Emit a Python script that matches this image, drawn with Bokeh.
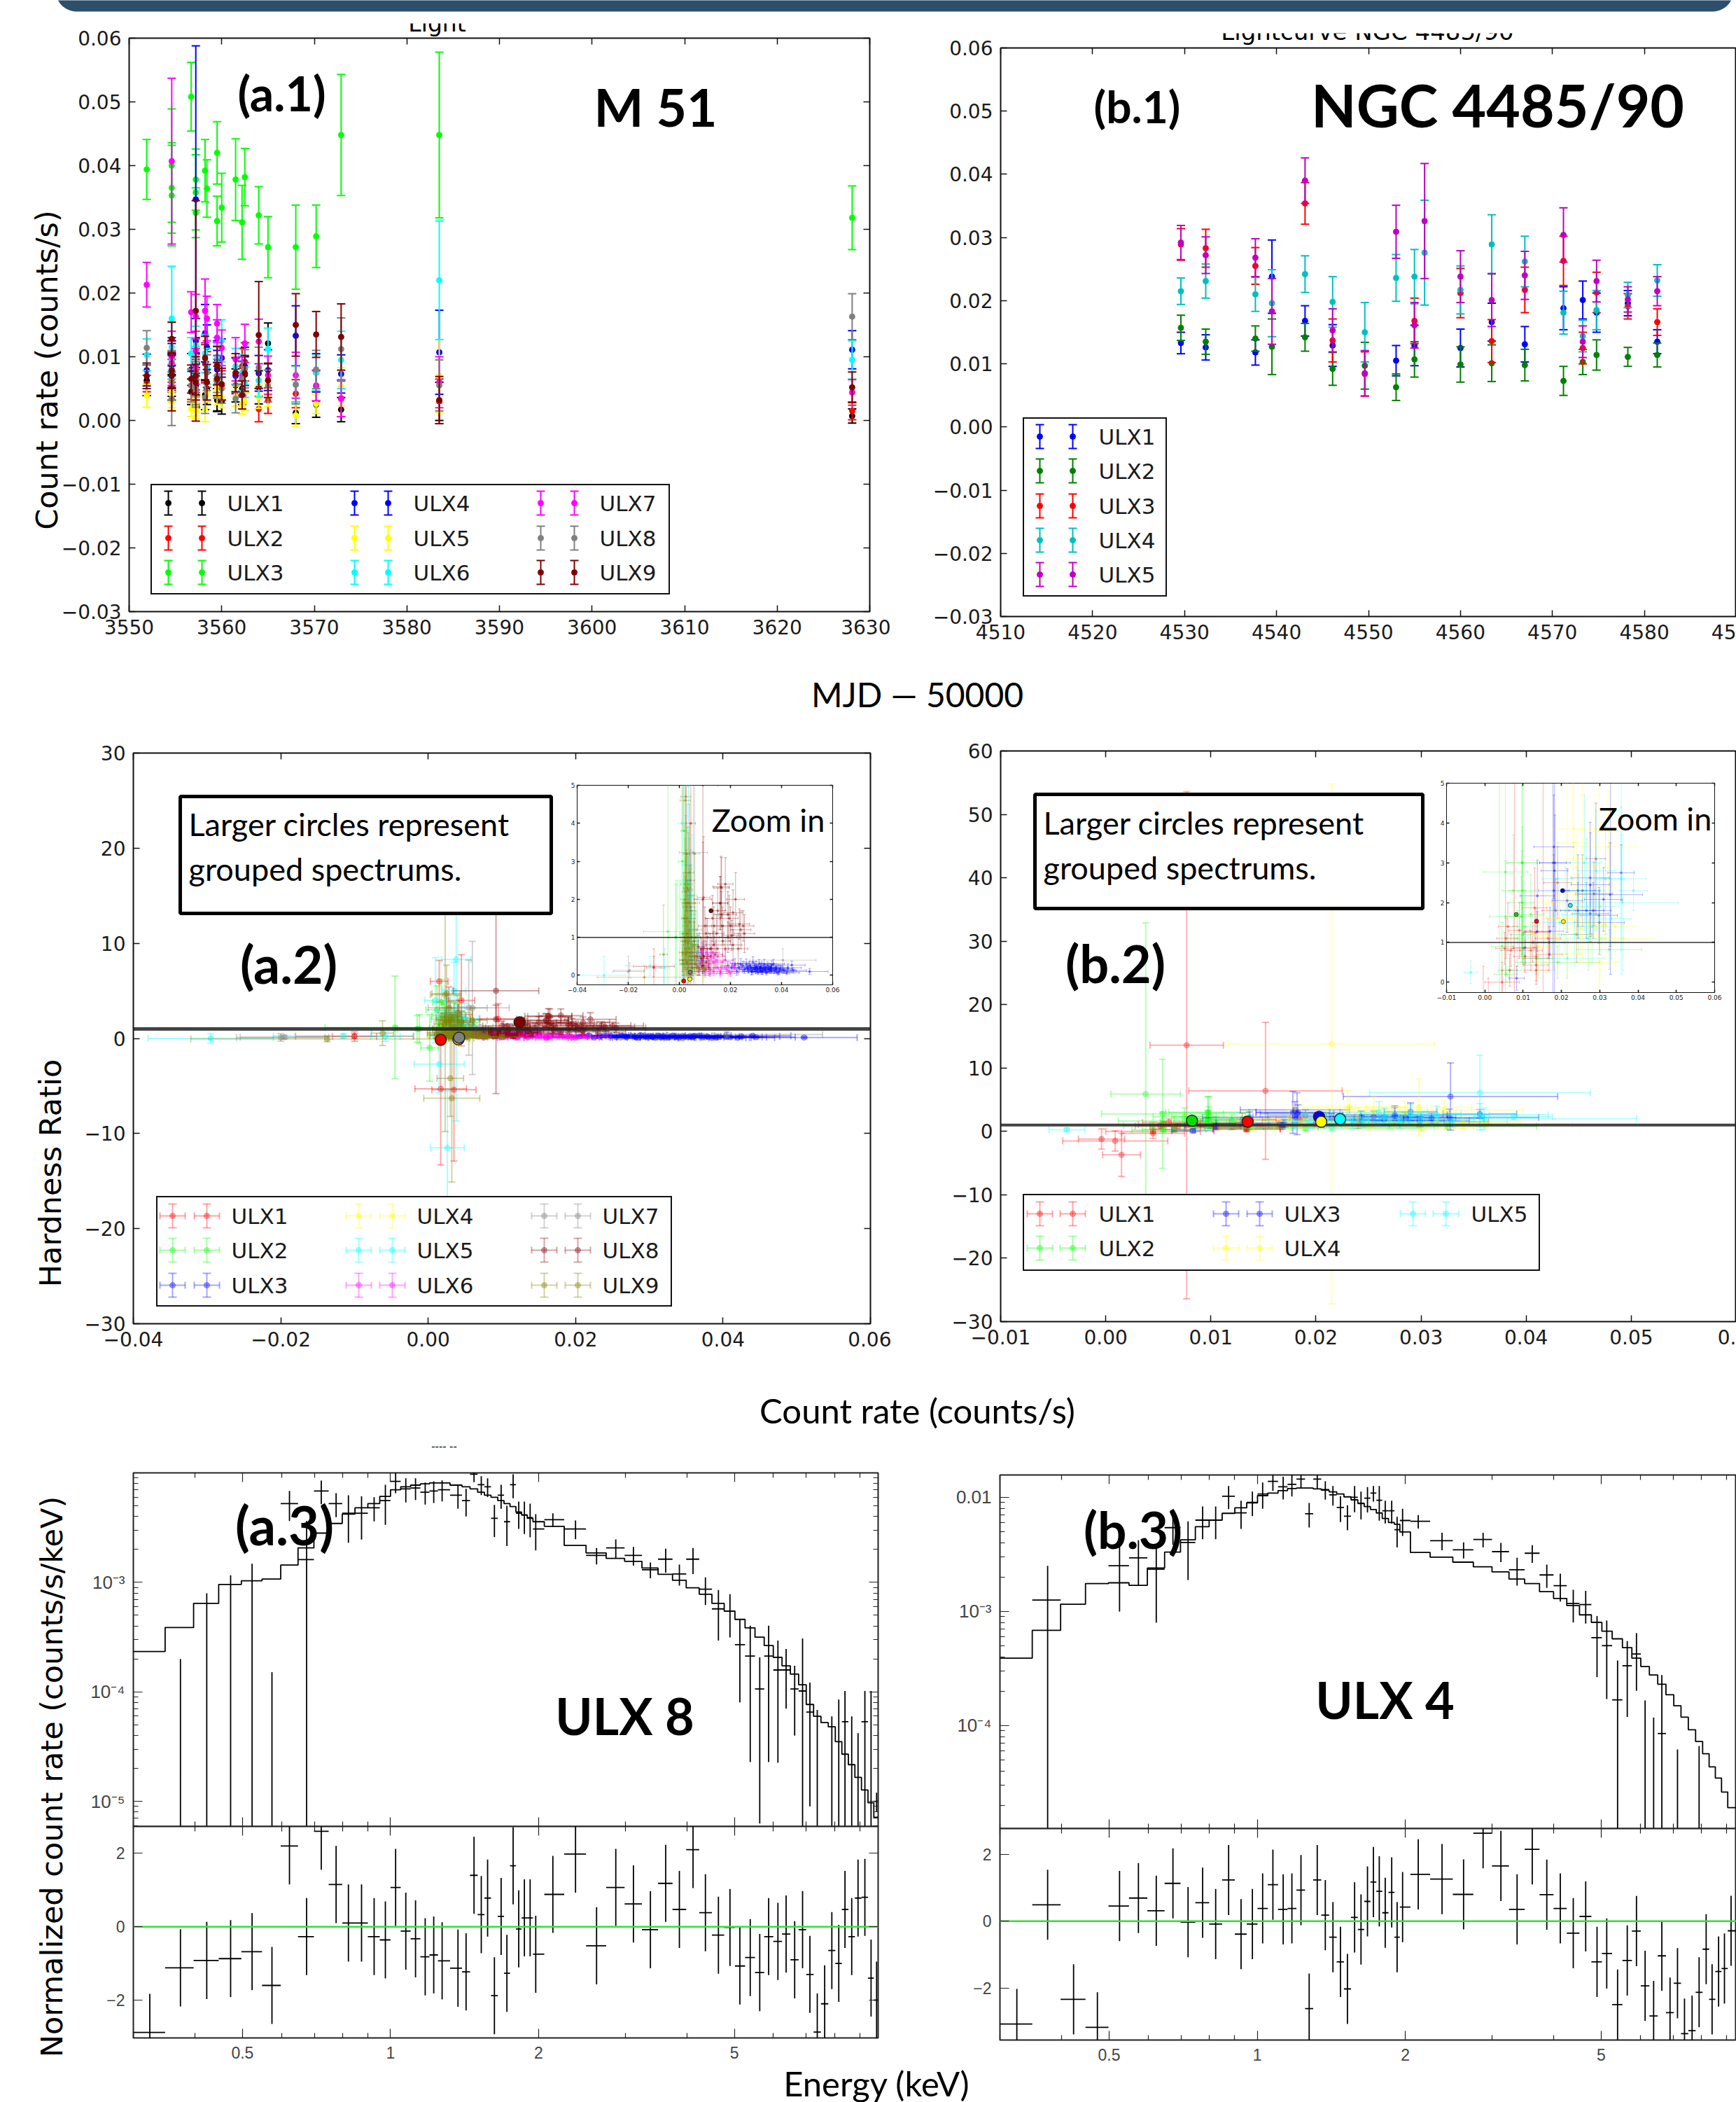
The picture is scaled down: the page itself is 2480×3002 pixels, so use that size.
import math
import numpy as np
from bokeh.plotting import figure
from bokeh.models import Range1d, FixedTicker, LinearAxis, LogAxis
from bokeh.core.properties import value
from bokeh.embed import file_html
from bokeh.resources import INLINE

# ---------- (a.1) light curves, M 51 ----------
A1_T = [3551.9,3554.6,3554.6,3554.6,3556.7,3557.2,3557.2,3557.2,3558.2,3558.4,3559.5,3559.5,3560.0,3561.5,3562.2,3562.5,3564.0,3565.0,3568.0,3570.2,3572.9,3583.5,3628.1]
A1_ULX1 = [.0063,.0075,.0052,.0062,.0045,.0042,.0048,.0055,.0040,.0050,.0032,.0035,.0030,.0055,.0050,.0072,.0052,.0121,.0012,.0025,.0017,.0030,.0007]
A1_ULX1_E = [.0024,.0030,.0020,.0024,.0020,.0022,.0026,.0028,.0023,.0025,.0018,.0020,.0020,.0026,.0025,.0028,.0026,.0032,.0017,.0020,.0019,.0030,.0011]
A1_ULX2 = [.0058,.0095,.0070,.0080,.0055,.0076,.0065,.0070,.0089,.0080,.0060,.0065,.0055,.0072,.0085,.0092,.0018,.0031,.0042,.0054,.0034,.0030,.0015]
A1_ULX2_E = [.0013,.0030,.0026,.0028,.0022,.0028,.0025,.0026,.0030,.0028,.0025,.0026,.0023,.0027,.0028,.0030,.0020,.0020,.0022,.0024,.0028,.0035,.0014]
A1_ULX3 = [.0394,.0400,.0365,.0353,.0508,.0378,.0358,.0326,.0392,.0364,.0420,.0313,.0334,.0378,.0311,.0382,.0322,.0272,.0272,.0289,.0448,.0448,.0318]
A1_ULX3_E = [.0047,.0089,.0071,.0079,.0054,.0048,.0059,.0039,.0049,.0045,.0049,.0039,.0054,.0064,.0058,.0045,.0045,.0048,.0066,.0049,.0095,.0130,.0050]
A1_ULX4 = [.0079,.0086,.0100,.0075,.0080,.0347,.0125,.0100,.0137,.0115,.0080,.0095,.0098,.0070,.0065,.0085,.0074,.0079,.0133,.0075,.0073,.0107,.0111]
A1_ULX4_E = [.0025,.0035,.0030,.0028,.0025,.0241,.0035,.0030,.0045,.0035,.0030,.0030,.0030,.0028,.0028,.0030,.0028,.0032,.0047,.0030,.0030,.0066,.0030]
A1_ULX5 = [.0039,.0035,.0045,.0030,.0018,.0025,.0020,.0015,.0018,.0045,.0050,.0040,.0035,.0038,.0026,.0030,.0037,.0040,.0008,.0026,.0053,.0070,.0045]
A1_ULX5_E = [.0018,.0015,.0017,.0015,.0012,.0013,.0013,.0012,.0020,.0016,.0015,.0015,.0015,.0016,.0016,.0014,.0018,.0018,.0018,.0015,.0030,.0057,.0020]
A1_ULX6 = [.0103,.0160,.0115,.0095,.0105,.0118,.0100,.0090,.0105,.0085,.0090,.0100,.0125,.0085,.0075,.0060,.0063,.0112,.0057,.0075,.0095,.0220,.0095]
A1_ULX6_E = [.0025,.0082,.0040,.0030,.0025,.0030,.0028,.0026,.0030,.0028,.0028,.0030,.0033,.0028,.0028,.0024,.0026,.0033,.0028,.0028,.0045,.0093,.0030]
A1_ULX7 = [.0213,.0407,.0100,.0090,.0170,.0163,.0110,.0085,.0172,.0160,.0152,.0130,.0114,.0096,.0070,.0121,.0124,.0071,.0071,.0055,.0035,.0060,.0044]
A1_ULX7_E = [.0035,.0130,.0040,.0035,.0032,.0035,.0030,.0028,.0050,.0035,.0030,.0028,.0028,.0034,.0030,.0030,.0035,.0030,.0036,.0024,.0029,.0040,.0020]
A1_ULX8 = [.0114,.0034,.0080,.0060,.0055,.0050,.0045,.0065,.0036,.0075,.0070,.0060,.0050,.0034,.0065,.0081,.0083,.0054,.0056,.0080,.0112,.0055,.0163]
A1_ULX8_E = [.0027,.0042,.0030,.0028,.0026,.0025,.0024,.0028,.0025,.0028,.0026,.0025,.0023,.0022,.0027,.0030,.0032,.0025,.0030,.0030,.0049,.0040,.0036]
A1_ULX9 = [.0070,.0128,.0070,.0078,.0065,.0172,.0070,.0060,.0098,.0060,.0086,.0065,.0057,.0075,.0040,.0074,.0134,.0063,.0150,.0135,.0131,.0032,.0052]
A1_ULX9_E = [.0020,.0026,.0055,.0028,.0022,.0173,.0030,.0028,.0034,.0028,.0030,.0026,.0025,.0030,.0022,.0028,.0084,.0027,.0049,.0036,.0052,.0037,.0024]
A1_COLORS = ["#000000","#ff0000","#00ff00","#0000ff","#ffff00","#00ffff","#ff00ff","#808080","#800000"]

# ---------- (b.1) light curves, NGC 4485/90 ----------
N = None
B1_T = [4529.6,4532.3,4537.7,4539.5,4543.1,4546.1,4549.6,4553.0,4555.0,4556.1,4560.0,4563.4,4567.0,4571.2,4573.3,4574.8,4578.2,4581.4]
B1_ULX1 = [.0133,.0126,.0118,.0238,.0168,.0129,N,.0105,.0129,N,.0125,.0166,.0131,.0188,.0201,.0181,.0196,.0135]
B1_ULX1_E = [.0017,.0020,.0020,.0058,.0024,.0033,N,.0024,.0032,N,.0030,.0030,.0028,.0034,.0030,.0031,.0020,.0019]
B1_ULX2 = [.0157,.0135,.0140,.0127,.0142,.0092,.0097,.0063,.0107,N,.0099,.0101,.0098,.0073,.0103,.0114,.0111,.0114]
B1_ULX2_E = [.0020,.0020,.0020,.0044,.0022,.0026,.0037,.0021,.0028,N,.0028,.0029,.0025,.0023,.0020,.0024,.0015,.0019]
B1_ULX3 = [.0289,.0283,.0255,N,.0354,.0137,.0084,N,.0168,N,.0212,.0136,.0217,.0263,.0125,.0213,.0191,.0166]
B1_ULX3_E = [.0025,.0030,.0029,N,.0033,.0034,.0035,N,.0036,N,.0039,.0034,.0036,.0039,.0025,.0032,.0020,.0021]
B1_ULX4 = [.0215,.0231,.0210,.0196,.0242,.0198,.0150,.0236,.0238,.0276,.0217,.0289,.0262,.0181,.0144,.0185,.0209,.0232]
B1_ULX4_E = [.0021,.0027,.0027,.0053,.0029,.0040,.0047,.0037,.0043,.0083,.0038,.0047,.0040,.0034,.0025,.0031,.0020,.0025]
B1_ULX5 = [.0292,.0272,.0268,.0183,.0390,.0153,.0085,.0309,.0161,.0326,.0238,.0201,.0240,.0304,.0135,.0231,.0202,.0215]
B1_ULX5_E = [.0027,.0029,.0030,.0052,.0036,.0034,.0036,.0042,.0036,.0091,.0041,.0042,.0038,.0043,.0025,.0033,.0020,.0023]
B1_COLORS = ["#0000ff","#008000","#ff0000","#00bfbf","#bf00bf"]

# ---------- (a.2) hardness ratio, M 51 ----------
A2_X1 = [-.0100,.0017,.0035,.0045,.0015,.0030,.0060,.0042,.0025,.0050,.0038,.0020,.0070,.0028,.0095,-.0100]
A2_Y1 = [.2,-5.3,-5.4,4.0,6.0,1.5,.8,2.5,.9,.4,1.9,.3,.6,3.2,2.05,.23]
A2_XE1 = [.0030,.0035,.0030,.0018,.0012,.0015,.0016,.0018,.0014,.0017,.0015,.0012,.0018,.0013,.0025,.0080]
A2_YE1 = [.5,8.0,7.5,4.8,2.2,1.2,.6,1.5,.8,.4,1.0,.5,.5,2.2,1.6,.27]
A2_X2 = [-.0045,-.0012,.0002,.0012,.0022,.0030,.0042,.0055,.0036,.0026,.0048,.0065,.0018,.0032,.0020,.0040,.0030,.0050,.0025,.0035,.0060,.0015,.0045,.0070,-.0015]
A2_Y2 = [1.15,1.0,-1.0,3.0,2.0,1.5,1.2,.8,2.4,.7,.4,1.0,3.8,.3,2.4,2.1,1.3,.8,.3,.6,.5,1.1,1.6,.2,1.0]
A2_XE2 = [.0095,.0030,.0012,.0015,.0018,.0016,.0020,.0018,.0015,.0013,.0016,.0020,.0012,.0014,.0015,.0017,.0016,.0018,.0013,.0015,.0020,.0013,.0017,.0022,.0030]
A2_YE2 = [5.4,1.5,3.5,2.5,1.6,1.0,.9,.5,1.5,.7,.3,.7,2.4,.3,1.6,1.5,1.0,.7,.3,.5,.4,.9,1.2,.2,1.4]
A2_X3 = [.0190,.0205,.0218,.0225,.0232,.0240,.0248,.0255,.0262,.0268,.0275,.0282,.0288,.0295,.0300,.0305,.0312,.0318,.0325,.0332,.0338,.0345,.0352,.0360,.0368,.0378,.0390,.0405,.0425,.0510,.0270,.0280,.0285,.0292,.0298,.0303,.0308,.0315,.0320,.0322,.0328,.0335,.0340,.0348,.0355,.0358,.0362,.0372,.0380,.0385,.0395,.0410,.0420,.0440,.0445]
A2_Y3 = [.25,.2,.3,.1,.2,.3,.25,.15,.3,.2,.25,.1,.35,.2,.25,.15,.3,.2,.1,.3,.2,.25,.15,.2,.3,.2,.1,.15,.2,.1,.15,.2,.1,.17,.12,.2,.08,.15,.22,.1,.17,.14,.07,.18,.22,.12,.27,.12,.16,.06,.17,.12,.07,.27,.13]
A2_XE3 = [.0028,.0030,.0030,.0031,.0031,.0032,.0032,.0033,.0033,.0034,.0034,.0035,.0035,.0036,.0036,.0037,.0037,.0038,.0038,.0039,.0040,.0040,.0041,.0042,.0043,.0044,.0046,.0048,.0052,.0072,.0034,.0035,.0035,.0036,.0037,.0037,.0038,.0038,.0039,.0039,.0040,.0040,.0041,.0042,.0042,.0043,.0043,.0045,.0046,.0046,.0047,.0049,.0050,.0052,.0053]
A2_YE3 = [.12,.12,.14,.1,.12,.14,.12,.1,.13,.11,.12,.09,.14,.1,.12,.09,.12,.1,.08,.12,.1,.1,.08,.1,.12,.1,.08,.08,.1,.08,.09,.1,.07,.09,.08,.1,.06,.08,.1,.07,.09,.08,.06,.09,.1,.07,.11,.07,.08,.05,.08,.07,.05,.1,.07]
A2_X4 = [.0012,.0025,.0041,.0055,.0035,.0048,.0070,.0090,.0110,.0135,.0160,.0190,.0062,.0030]
A2_Y4 = [.3,.6,-.3,.2,1.0,.5,.3,.2,.25,.15,.3,.1,.7,1.6]
A2_XE4 = [.0012,.0014,.0016,.0018,.0015,.0016,.0020,.0022,.0024,.0025,.0027,.0030,.0018,.0013]
A2_YE4 = [.4,.7,.5,.3,.9,.5,.3,.25,.2,.2,.25,.2,.6,1.5]
A2_X5 = [-.0295,-.0058,.0038,.0015,.0026,.0010,.0030,.0045,.0060,.0075,.0020,.0052,.0035,.0090,.0045,.0055,.0035,.0065,.0025,.0050,.0075,-.0115]
A2_Y5 = [0,.2,8.3,-2.7,-11.5,4.0,2.5,1.5,1.0,.6,.3,.2,5.0,.4,1.2,.9,1.7,.6,2.9,2.1,.4,.25]
A2_XE5 = [.0085,.0020,.0020,.0034,.0023,.0015,.0016,.0018,.0020,.0022,.0014,.0017,.0016,.0024,.0018,.0019,.0016,.0020,.0015,.0019,.0022,.0095]
A2_YE5 = [.5,.5,17,3,6,4.5,2,1.4,.8,.5,.4,.3,3,.4,1,.8,1.4,.5,2.2,1.6,.3,.25]
A2_X6 = [.0045,.0060,.0075,.0090,.0105,.0120,.0135,.0150,.0165,.0180,.0195,.0210,.0100,.0130,.0085,.0160,.0105,.0115,.0125,.0095,.0085,.0075,.0065,.0135,.0150,.0170,.0185,.0200,.0215,.0110,.0120,.0090,.0145,.0160]
A2_Y6 = [.3,.5,.2,.4,.6,.15,.35,.5,.2,.4,.1,.25,.1,.6,.65,.05,.15,.3,.5,.25,.35,.1,.3,.1,.2,.35,.15,.05,.2,.45,.05,.55,.4,.1]
A2_XE6 = [.0018,.002,.0022,.0024,.0025,.0026,.0027,.0028,.003,.003,.0032,.0033,.0025,.0027,.0023,.003,.0025,.0026,.0027,.0024,.0023,.0022,.0021,.0027,.0028,.003,.0031,.0032,.0033,.0026,.0026,.0024,.0028,.003]
A2_YE6 = [.3,.3,.2,.3,.3,.15,.25,.3,.15,.25,.1,.15,.1,.3,.35,.1,.15,.2,.25,.2,.25,.1,.2,.1,.15,.2,.1,.08,.15,.25,.08,.3,.2,.1]
A2_X7 = [-.0200,.0060,.0042,.0035,.0025,.0050,.0070,.0015,.0080,.0100,.0045,.0030,.0055,-.0195,.0405]
A2_Y7 = [.1,3.2,.0,1.0,2.2,.5,1.2,.4,.3,.2,1.8,.6,3.23,.13,.4]
A2_XE7 = [.006,.002,.0014,.0015,.0014,.0016,.0018,.0012,.002,.0022,.0016,.0013,.0055,.0060,.0130]
A2_YE7 = [.4,7,.3,1,2,.4,.8,.5,.3,.2,1.5,.5,5,.2,.3]
A2_X8 = [.0092,.0092,.0165,.0180,.0220,.0150,.0200,.0240,.0130,.0110,.0170,.0190,.0210,.0255,.0120,.0145,.0095,.0230,.0160,.0100,.0163,.0160,.0210,.0195,.0165,.0250,.0235,.0205,.0190,.0170,.0135,.0105,.0085,.0075,.0125,.0140,.0095,.0085,.0105,.0135,.0180,.0115,.0090]
A2_Y8 = [5,2,2.3,2.4,2.0,1.7,1.3,1.2,1.5,1.0,.9,1.6,.8,1.1,.7,1.1,.5,.7,1.9,1.3,2.33,1.9,1.65,1.5,1.6,1.3,1.35,1.05,1.0,1.3,1.3,1.1,.7,.75,.7,.55,.5,.45,.35,.8,.7,.2,.25]
A2_XE8 = [.0058,.0035,.003,.003,.0035,.003,.0035,.004,.0028,.0028,.003,.0035,.0035,.004,.0028,.003,.0025,.0038,.003,.0026,.0032,.003,.0036,.0034,.003,.0042,.004,.0036,.0034,.0032,.0028,.0027,.0025,.0024,.0028,.0029,.0026,.0025,.0027,.0029,.0032,.0027,.0025]
A2_YE8 = [10.8,1.5,.8,.7,.7,.6,.5,.5,.6,.5,.4,.6,.4,.5,.4,.5,.4,.4,.7,.5,.8,.7,.6,.6,.6,.4,.4,.4,.4,.5,.5,.4,.3,.3,.3,.3,.25,.25,.2,.35,.3,.2,.2]
A2_X9 = [-.0137,-.0062,.0023,.0032,.0030,.0020,.0040,.0050,.0060,.0028,.0035,.0012,.0075,.0045,.0100,.0025,.0030,.0040,.0035,.0025,.0045,.0040,.0060,.0030,.0020,.0035,.0050,.0025,.0040,.0015,.0030,.0050,.0060,.0070,.0080,.0022,.0032,.0048,.0012,.0058,.0068,.0038,.0028,.0045]
A2_Y9 = [-.05,.55,4.6,-6.3,-4.2,1.0,.6,.3,.5,1.8,.2,.4,.2,1.0,.15,4.7,2.3,2.7,2.25,1.9,1.7,1.4,1.9,1.1,.9,.85,.6,.55,.4,.3,.15,.2,.3,.5,.15,1.5,1.9,1.0,.6,.9,.2,.7,.35,.05]
A2_XE9 = [.0185,.0015,.002,.0038,.0018,.0014,.0016,.0018,.002,.0014,.0015,.0013,.0022,.0016,.0024,.0020,.0015,.0017,.0016,.0014,.0017,.0016,.0020,.0015,.0014,.0016,.0018,.0014,.0016,.0013,.0015,.0018,.0020,.0022,.0023,.0014,.0015,.0017,.0013,.0019,.0021,.0016,.0014,.0017]
A2_YE9 = [.3,1.3,14.4,8.8,4,1,.6,.4,.4,1.5,.3,.4,.2,.8,.2,3,1.6,1.8,1.5,1.3,1.2,1,1.3,.8,.7,.6,.5,.4,.35,.3,.2,.2,.25,.3,.15,1.1,1.3,.7,.5,.6,.2,.5,.3,.1]
A2_COLORS = ["#ff0000","#00ff00","#0000ff","#ffff00","#00ffff","#ff00ff","#808080","#800000","#808000"]
A2_GROUP_X = [.0041,.0017,.0042,.0124]
A2_GROUP_Y = [-.1,-.15,.08,1.7]
A2_GROUP_C = ["#ffff00","#ff0000","#808080","#800000"]

# ---------- (b.2) hardness ratio, NGC 4485/90 ----------
B2_X1 = [-.0004,.0009,.0015,.0045,.0077,.0152,.0065,.0134,.0134,.0134,.0133,.0130,.0125,.0105,.0120,.0090,.0060,.0055,.0052,.0068,.0185,.0190,.0168,.0165,.0240,.0100,.0045]
B2_Y1 = [-1.2,-1.5,-3.7,-.3,13.6,6.4,.3,.3,.43,.6,1.25,1.87,1.0,.65,.8,1.3,1.4,1.1,.85,.8,1.8,2.5,.7,1.1,1.2,.85,0]
B2_XE1 = [.0022,.0050,.0018,.0030,.0035,.0073,.0020,.0032,.0032,.0032,.0032,.0032,.0030,.0030,.0030,.0028,.0025,.0024,.0024,.0026,.0036,.0036,.0034,.0033,.0040,.0029,.0045]
B2_YE1 = [1.6,1.6,3.4,.8,40,10.8,.4,.35,.4,.4,.6,1.0,.5,.4,.5,.7,.6,.5,.4,.4,.8,.9,.4,.5,.7,.4,.3]
B2_X2 = [.0038,.0054,.0097,.0098,.0098,.0097,.0095,.0054,.0137,.0085,.0105,.0325,.0190,.0055,.0065,.0100,.0120,.0045,.0075]
B2_Y2 = [5.9,2.77,3.0,3.0,2.3,2.0,1.65,1.65,.6,1.1,1.4,.82,.5,.2,.3,1.2,1.7,.9,2.3]
B2_XE2 = [.0033,.0058,.0040,.0038,.0035,.0032,.0030,.0042,.0040,.0030,.0032,.0085,.0110,.0030,.0030,.0030,.0035,.0028,.0030]
B2_YE2 = [27,8.6,2.5,2.5,1.6,1.3,1.0,1.4,.3,.7,.9,.5,.4,.2,.3,.8,1.0,.6,1.4]
B2_X3 = [.0328,.0178,.0182,.0180,.0183,.0290,.0356,.0327,.0275,.0275,.0243,.0255,.0285,.0310,.0215,.0180,.0137,.0243,.0265,.0275,.0283,.0298,.0299,.0170,.0137,.0168,.0105,.0083]
B2_Y3 = [5.5,3.0,2.8,3.4,3.0,3.1,2.75,2.2,2.45,2.62,2.3,2.3,2.22,2.08,2.05,2.3,2.17,1.8,1.8,1.72,1.8,1.68,1.5,1.28,1.27,1.0,.87,.1]
B2_XE3 = [.0102,.0035,.0035,.0052,.0040,.0025,.0035,.0085,.0050,.0050,.0045,.0045,.0048,.0050,.0040,.0040,.0045,.0045,.0046,.0047,.0047,.0048,.0065,.0035,.0032,.0040,.0030,.0020]
B2_YE3 = [5.3,3.3,3.3,1.3,1.2,1.4,.7,1.3,1.3,1.4,.9,.9,.8,.8,.8,.9,.9,.7,.7,.7,.7,.7,.8,.6,.5,.4,.4,.3]
B2_X4 = [.0215,.0298,.0232,.0322,.0362,.0315,.0205,.0250,.0275,.0185,.0230,.0255,.0160,.0190,.0240,.0270,.0285,.0305,.0140,.0175,.0215,.0340,.0300]
B2_Y4 = [13.8,3.8,3.85,3.4,1.1,1.45,1.6,1.35,1.2,1.1,3.5,3.1,1.2,1.6,2.2,1.5,2.9,1.1,.9,2.0,.7,1.4,.5]
B2_XE4 = [.0098,.0050,.0055,.0075,.0082,.0050,.0040,.0045,.0045,.0035,.0050,.0045,.0035,.0038,.0042,.0045,.0048,.0050,.0033,.0036,.0040,.0055,.0050]
B2_YE4 = [41,4.5,1.5,1.4,.5,.8,1,.8,.7,.6,3,2.5,1,1.2,1.5,1.1,1.8,.8,.8,1.4,.5,1,.5]
B2_X5 = [.0356,-.0037,.0388,.0360,.0356,.0190,.0215,.0245,.0265,.0280,.0300,.0315,.0235,.0195,.0210,.0270,.0290,.0330,.0180,.0260]
B2_Y5 = [6.1,.25,2.3,2.0,2.6,2.6,.6,1.7,2.3,1.4,1.9,2.6,1.2,1.5,1.8,1.1,2.8,1.6,1.0,3.0]
B2_XE5 = [.0105,.0017,.0037,.0145,.0065,.0040,.0098,.0044,.0046,.0047,.0050,.0050,.0044,.0040,.0040,.0046,.0048,.0052,.0038,.0046]
B2_YE5 = [5.9,.28,.5,1.7,1.8,.9,.5,1,1.3,.9,1.1,1.4,.8,1,1.1,.8,1.5,1,.7,1.7]
B2_COLORS = ["#ff0000","#00ff00","#0000ff","#ffff00","#00ffff"]
B2_GROUP_X = [.0082,.0135,.0203,.0205,.0223]
B2_GROUP_Y = [1.7,1.53,2.3,1.52,1.93]
B2_GROUP_C = ["#00e000","#ff0000","#0000ff","#ffff00","#00ffff"]

# ---------- (a.3) spectrum ULX 8 ----------
A3_E = [.324,.374,.423,.473,.523,.574,.623,.675,.723,.775,.821,.873,.926,.976,1.024,1.074,1.124,1.176,1.224,1.273,1.371,1.424,1.478,1.529,1.575,1.626,1.678,1.724,1.775,1.822,1.871,1.922,1.973,2.138,2.377,2.623,2.87,3.117,3.375,3.625,3.865,4.12,4.366,4.64,4.898,5.13,5.385,5.63,5.87,6.13,6.37,6.63,6.88,7.12,7.37,7.63,7.89,8.15,8.39,8.66,8.92,9.21,9.48,9.73]
A3_MODEL_LOG = [-3.631,-3.412,-3.192,-3.019,-2.985,-2.969,-2.842,-2.685,-2.55,-2.462,-2.377,-2.319,-2.281,-2.215,-2.154,-2.127,-2.112,-2.1,-2.092,-2.092,-2.112,-2.127,-2.146,-2.177,-2.204,-2.223,-2.254,-2.281,-2.308,-2.358,-2.385,-2.415,-2.446,-2.488,-2.662,-2.731,-2.781,-2.808,-2.869,-2.927,-2.981,-3.05,-3.108,-3.192,-3.262,-3.338,-3.415,-3.5,-3.577,-3.685,-3.762,-3.838,-3.935,-4.115,-4.223,-4.281,-4.319,-4.454,-4.569,-4.665,-4.781,-4.896,-5.012,-5.146]
A3_DATA_LOG = [N,N,N,N,N,N,-2.281,-2.792,-2.165,-2.281,-2.369,-2.369,-2.319,-2.254,-2.077,-2.146,-2.138,-2.177,-2.165,-2.154,-2.204,-2.254,-2.012,-2.108,-2.127,-2.415,-2.204,-2.446,-2.108,-2.369,-2.385,-2.408,-2.512,-2.427,-2.512,-2.754,-2.685,-2.754,-2.885,-2.788,-2.923,-2.788,-3.062,-3.242,-3.262,-3.569,-3.673,-3.973,-3.673,-3.8,-3.8,-3.973,-3.992,-4.185,N,N,N,N,-4.273,N,N,-4.273,N,-5.0]
A3_TOP_LOG = [N,-3.70,-3.10,-2.935,-2.83,-3.82,-2.165,-2.44,-2.07,-2.185,-2.204,-2.215,-2.223,-2.108,-1.99,-2.05,-2.05,-2.088,-2.077,-2.069,-2.108,-2.146,-1.95,-2.03,-2.05,-2.292,-2.108,-2.3,-2.012,-2.262,-2.262,-2.281,-2.377,-2.369,-2.435,-2.685,-2.608,-2.677,-2.819,-2.692,-2.838,-2.685,-2.954,-3.07,-3.108,-3.338,-3.396,-3.685,-3.396,-3.531,-3.608,-3.762,-3.512,-3.915,-4.165,N,-4.223,-4.07,-3.992,-4.223,-4.377,-3.992,-3.992,-4.92]
A3_RESID = [-2.88,-1.12,-.92,-.87,-.68,-1.6,2.2,-.27,2.6,1.15,.1,.1,-.27,-.36,1.07,-.12,-.33,-.82,-.77,-.93,-1.13,-1.23,1.4,.33,.78,-1.88,.28,-1.27,1.66,-.06,.24,.24,-.75,.88,1.98,-.52,1.07,.62,-.08,1.18,.47,2.1,.38,-.23,-.02,-1.07,-.84,-1.25,-.27,-.4,-.2,-.9,-.08,-1.3,-2.87,-2.1,-.65,-1.0,.47,-.27,.78,.8,-1.4,-2.0]

# ---------- (b.3) spectrum ULX 4 ----------
B3_E = [.3247,.375,.4234,.4733,.525,.5735,.6234,.674,.7234,.7745,.8232,.8746,.927,.9775,1.0256,1.076,1.129,1.176,1.227,1.275,1.324,1.375,1.425,1.476,1.525,1.577,1.625,1.675,1.722,1.77,1.82,1.876,1.924,1.974,2.124,2.374,2.626,2.877,3.127,3.373,3.621,3.876,4.129,4.387,4.65,4.903,5.131,5.398,5.648,5.897,6.14,6.39,6.64,6.9,7.145,7.383,7.65,7.905,8.17,8.4,8.66,8.9,9.18]
B3_MODEL_LOG = [-3.41,-3.166,-2.937,-2.756,-2.749,-2.771,-2.62,-2.48,-2.373,-2.258,-2.2,-2.14,-2.092,-2.048,-1.985,-1.963,-1.941,-1.923,-1.919,-1.919,-1.926,-1.937,-1.952,-1.97,-1.996,-2.022,-2.052,-2.081,-2.107,-2.137,-2.185,-2.221,-2.236,-2.303,-2.483,-2.524,-2.568,-2.609,-2.653,-2.716,-2.756,-2.827,-2.886,-2.948,-3.03,-3.096,-3.173,-3.24,-3.317,-3.41,-3.483,-3.557,-3.638,-3.73,-3.827,-3.926,-4.037,-4.14,-4.247,-4.362,-4.461,-4.583,-4.72]
B3_DATA_LOG = [N,-2.9,N,N,-2.6,-2.53,-2.63,-2.266,-2.395,-2.2,-2.2,-1.99,-2.136,-2.044,-1.97,-1.86,-1.908,-1.886,-1.84,-2.144,-1.84,-1.933,-1.978,-2.089,-2.166,-2.0,-2.055,-2.007,-1.963,-2.026,-2.118,-2.118,-2.284,-2.203,-2.21,-2.38,-2.46,-2.37,-2.476,-2.635,-2.49,-2.68,-2.775,-2.93,-2.94,-3.23,-3.3,-3.775,-3.476,-3.373,N,N,-4.07,N,N,N,N,N,N,N,N,N,N]
B3_TOP_LOG = [N,-2.6,N,N,-2.395,-2.376,-2.41,-2.155,-2.21,-2.08,-2.08,-1.9,-2.03,-1.95,-1.87,-1.79,-1.82,-1.8,-1.77,-2.05,-1.77,-1.86,-1.9,-1.99,-2.07,-1.9,-1.95,-1.91,-1.9,-1.9,-2.03,-2.03,-2.17,-2.1,-2.155,-2.31,-2.395,-2.31,-2.4,-2.53,-2.42,-2.59,-2.67,-2.81,-2.82,-3.04,-3.08,-3.43,-3.26,-3.19,-3.78,-3.93,-3.557,N,-4.21,N,N,-4.18,N,N,N,N,N]
B3_RESID = [-3.08,.49,-2.34,-3.18,.45,.69,.31,1.13,-.03,.55,-.09,1.23,-.39,-.09,.38,1.09,.35,.38,.93,-2.62,1.23,.18,-.48,-1.22,-2.03,.11,-.25,.59,1.17,.89,.25,.86,-.48,.42,1.4,1.26,.8,2.63,1.65,.35,2.15,.79,.38,-.36,.14,-1.22,-.97,-2.5,-1.18,-.3,-1.94,-2.84,-1.04,-2.74,-1.86,-3.37,-3.28,-2.13,-.84,-2.34,-1.51,-1.42,-.29]

LABELS_9 = ["ULX%d" % i for i in range(1, 10)]
LABELS_5 = ["ULX%d" % i for i in range(1, 6)]

TICK_FONT = "DejaVu Sans"
LABEL_FONT = "Lato"
figs = []


def place(fig, left, top):
    fig.styles = {"position": "absolute", "left": f"{left}px", "top": f"{top}px"}
    figs.append(fig)


def lab(v, digits):
    s = f"{abs(v):.{digits}f}"
    return ("\u2212" + s) if v < 0 else s


def panel(box, xr, yr, xt, yt, xd, yd, font=28, tick=9, L=130, R=30, T=20, B=60, line=2, right_axis=True, cut=None):
    l, t, r, b = box
    p = figure(x_range=Range1d(*xr), y_range=Range1d(*yr), frame_width=r - l, frame_height=b - t,
               min_border_left=L, min_border_right=R, min_border_top=T, min_border_bottom=B,
               toolbar_location=None, output_backend="svg", tools="",
               border_fill_alpha=0, background_fill_color="white")
    p.grid.visible = False
    p.outline_line_color = "#111111"
    p.outline_line_width = line
    for ax, ticks, d in ((p.xaxis[0], xt, xd), (p.yaxis[0], yt, yd)):
        ax.ticker = FixedTicker(ticks=ticks)
        ax.major_label_overrides = {float(v): lab(v, d) for v in ticks}
        ax.major_label_text_font = TICK_FONT
        ax.major_label_text_font_size = f"{font}px"
        ax.major_label_text_color = "#1a1a1a"
        ax.major_label_standoff = int(font * 0.4)
        ax.axis_line_color = None
        ax.major_tick_in, ax.major_tick_out = tick, 0
        ax.minor_tick_in, ax.minor_tick_out = 0, 0
        ax.major_tick_line_color = "#111111"
        ax.major_tick_line_width = 1.5
    if cut:  # the last tick label is cut by the page edge in the reference
        ov = dict(p.xaxis[0].major_label_overrides)
        ov[float(xt[-1])] = cut
        p.xaxis[0].major_label_overrides = ov
    sides = [("above", xt)] + ([("right", yt)] if right_axis else [])
    for side, ticks in sides:
        ax = LinearAxis(ticker=FixedTicker(ticks=ticks), axis_line_color=None,
                        major_label_overrides={float(v): "" for v in ticks},
                        major_tick_in=tick, major_tick_out=0, minor_tick_in=0, minor_tick_out=0,
                        major_tick_line_color="#111111", major_tick_line_width=1.5)
        p.add_layout(ax, side)
    place(p, l - L, t - T)
    return p


def clean(*cols):
    keep = [i for i in range(len(cols[0])) if all(c[i] is not None for c in cols)]
    return [np.array([c[i] for i in keep], dtype=float) for c in cols]


def errs_y(p, x, y, e, color, size=8, cap=12, width=2):
    x, y, e = clean(x, y, e)
    p.segment(x, y - e, x, y + e, line_color=color, line_width=width)
    p.scatter(np.r_[x, x], np.r_[y - e, y + e], marker="dash", size=cap, line_color=color, line_width=width)
    p.scatter(x, y, marker="circle", size=size, fill_color=color, line_color=color)


def errs_xy(p, x, y, xe, ye, color, alpha=.3, size=8, cap=10, width=2):
    x, y, xe, ye = map(lambda a: np.array(a, dtype=float), (x, y, xe, ye))
    p.segment(x, y - ye, x, y + ye, line_color=color, line_width=width, line_alpha=alpha)
    p.segment(x - xe, y, x + xe, y, line_color=color, line_width=width, line_alpha=alpha)
    p.scatter(np.r_[x, x], np.r_[y - ye, y + ye], marker="dash", size=cap, line_color=color, line_width=width, line_alpha=alpha)
    p.scatter(np.r_[x - xe, x + xe], np.r_[y, y], marker="dash", angle=math.pi / 2, size=cap, line_color=color, line_width=width, line_alpha=alpha)
    p.scatter(x, y, marker="circle", size=size, fill_color=color, line_color=color, fill_alpha=alpha, line_alpha=alpha)


def legend(box, rows, cols, labels, colors, xbars=False, alpha=1.0, font=31):
    l, t, r, b = box
    p = figure(width=r - l, height=b - t, x_range=Range1d(l, r), y_range=Range1d(b, t),
               x_axis_location=None, y_axis_location=None, toolbar_location=None, tools="",
               output_backend="svg", min_border=0, background_fill_color="white", border_fill_alpha=0)
    p.grid.visible = False
    p.outline_line_color = "#111111"
    p.outline_line_width = 3
    for i, (name, c) in enumerate(zip(labels, colors)):
        col = cols[i // len(rows)]
        y = rows[i % len(rows)]
        for x in col[:2]:
            p.segment([x], [y - 17], [x], [y + 17], line_color=c, line_width=2, line_alpha=alpha)
            p.scatter([x, x], [y - 17, y + 17], marker="dash", size=12, line_color=c, line_width=2, line_alpha=alpha)
            if xbars:
                p.segment([x - 18], [y], [x + 18], [y], line_color=c, line_width=2, line_alpha=alpha)
                p.scatter([x - 18, x + 18], [y, y], marker="dash", angle=math.pi / 2, size=10, line_color=c, line_width=2, line_alpha=alpha)
            p.scatter([x], [y], marker="circle", size=8, fill_color=c, line_color=c, fill_alpha=alpha, line_alpha=alpha)
        p.text([col[2]], [y], text=[name], text_font=value(TICK_FONT), text_font_size=f"{font}px",
               text_baseline="middle", text_color="#1a1a1a")
    place(p, l, t)


# ---- row 1 ----
a1 = panel((184, 54, 1242, 873), (3550, 3630), (-.03, .06), list(range(3550, 3631, 10)),
           [-.03, -.02, -.01, 0, .01, .02, .03, .04, .05, .06], 0, 2)
for yy, ee, c in zip([A1_ULX1, A1_ULX2, A1_ULX3, A1_ULX4, A1_ULX5, A1_ULX6, A1_ULX7, A1_ULX8, A1_ULX9],
                     [A1_ULX1_E, A1_ULX2_E, A1_ULX3_E, A1_ULX4_E, A1_ULX5_E, A1_ULX6_E, A1_ULX7_E, A1_ULX8_E, A1_ULX9_E],
                     A1_COLORS):
    errs_y(a1, A1_T, yy, ee, c)

b1 = panel((1429, 68, 2480, 880), (4510, 4590), (-.03, .06), list(range(4510, 4591, 10)),
           [-.03, -.02, -.01, 0, .01, .02, .03, .04, .05, .06], 0, 2, R=0, right_axis=False, cut="45")
for yy, ee, c in zip([B1_ULX1, B1_ULX2, B1_ULX3, B1_ULX4, B1_ULX5],
                     [B1_ULX1_E, B1_ULX2_E, B1_ULX3_E, B1_ULX4_E, B1_ULX5_E], B1_COLORS):
    errs_y(b1, B1_T, yy, ee, c)

legend((215, 691, 957, 849), [718, 768, 817], [(240, 288, 324), (506, 554, 590), (772, 820, 856)], LABELS_9, A1_COLORS)
legend((1461, 596, 1667, 852), [623, 672, 722, 771, 820], [(1485, 1532, 1569)], LABELS_5, B1_COLORS)

# ---- row 2 ----
A2_SERIES = [(A2_X1, A2_Y1, A2_XE1, A2_YE1), (A2_X2, A2_Y2, A2_XE2, A2_YE2), (A2_X3, A2_Y3, A2_XE3, A2_YE3),
             (A2_X4, A2_Y4, A2_XE4, A2_YE4), (A2_X5, A2_Y5, A2_XE5, A2_YE5), (A2_X6, A2_Y6, A2_XE6, A2_YE6),
             (A2_X7, A2_Y7, A2_XE7, A2_YE7), (A2_X8, A2_Y8, A2_XE8, A2_YE8), (A2_X9, A2_Y9, A2_XE9, A2_YE9)]
B2_SERIES = [(B2_X1, B2_Y1, B2_XE1, B2_YE1), (B2_X2, B2_Y2, B2_XE2, B2_YE2), (B2_X3, B2_Y3, B2_XE3, B2_YE3),
             (B2_X4, B2_Y4, B2_XE4, B2_YE4), (B2_X5, B2_Y5, B2_XE5, B2_YE5)]

a2 = panel((190, 1075, 1243, 1890), (-.04, .06), (-30, 30), [-.04, -.02, 0, .02, .04, .06],
           [-30, -20, -10, 0, 10, 20, 30], 2, 0)
for s, c in zip(A2_SERIES, A2_COLORS):
    errs_xy(a2, *s, c, alpha=.35)
a2.line([-.04, .06], [1, 1], line_color="#222222", line_width=5, line_alpha=.85)
a2.scatter(A2_GROUP_X, A2_GROUP_Y, marker="circle", size=16, fill_color=A2_GROUP_C, line_color="#222222", line_width=1.5)

b2 = panel((1429, 1072, 2480, 1887), (-.01, .06), (-30, 60), [-.01, 0, .01, .02, .03, .04, .05, .06],
           [-30, -20, -10, 0, 10, 20, 30, 40, 50, 60], 2, 0, R=0, right_axis=False, cut="0.")
for s, c in zip(B2_SERIES, B2_COLORS):
    errs_xy(b2, *s, c)
b2.line([-.01, .06], [1, 1], line_color="#222222", line_width=4, line_alpha=.85)
b2.scatter(B2_GROUP_X, B2_GROUP_Y, marker="circle", size=16, fill_color=B2_GROUP_C, line_color="#222222", line_width=1.5)

ia2 = panel((824, 1121, 1189, 1406), (-.04, .06), (-.25, 5), [-.04, -.02, 0, .02, .04, .06], [0, 1, 2, 3, 4, 5],
            2, 0, font=9, tick=4, L=30, R=20, T=10, B=26, line=1)
for s, c in zip(A2_SERIES, A2_COLORS):
    errs_xy(ia2, *s, c, size=3, cap=4, width=1, alpha=.35)
ia2.line([-.04, .06], [1, 1], line_color="#333333", line_width=1.5)
ia2.scatter(A2_GROUP_X, A2_GROUP_Y, marker="circle", size=6, fill_color=A2_GROUP_C, line_color="#222222", line_width=.8)

ib2 = panel((2066, 1118, 2449, 1417), (-.01, .06), (-.26, 5), [-.01, 0, .01, .02, .03, .04, .05, .06], [0, 1, 2, 3, 4, 5],
            2, 0, font=9, tick=4, L=30, R=20, T=10, B=26, line=1)
for s, c in zip(B2_SERIES, B2_COLORS):
    errs_xy(ib2, *s, c, size=3, cap=4, width=1)
ib2.line([-.01, .06], [1, 1], line_color="#333333", line_width=1.5)
ib2.scatter(B2_GROUP_X, B2_GROUP_Y, marker="circle", size=6, fill_color=B2_GROUP_C, line_color="#222222", line_width=.8)

legend((223, 1708, 960, 1866), [1736, 1785, 1835], [(246, 295, 330), (512, 560, 595), (777, 825, 860)],
       LABELS_9, A2_COLORS, xbars=True, alpha=.35)
legend((1461, 1705, 2200, 1815), [1733, 1782], [(1485, 1532, 1569), (1751, 1799, 1834), (2018, 2065, 2101)],
       LABELS_5, B2_COLORS, xbars=True, alpha=.35)


# ---- row 3 ----
XMAJ = [.5, 1, 2, 5]
XMIN = [.3, .4, .6, .7, .8, .9, 3, 4, 6, 7, 8, 9]
SMALL = "Liberation Sans"
INK = "#000000"


def log_axis_style(ax, major, minor, labels=None, size=23):
    ax.ticker = FixedTicker(ticks=major, minor_ticks=minor)
    ax.major_label_overrides = labels if labels else {float(v): "" for v in major}
    ax.major_label_text_font = SMALL
    ax.major_label_text_font_size = f"{size}px"
    ax.major_label_text_color = "#444444"
    ax.major_label_standoff = 12
    ax.axis_line_color = None
    ax.major_tick_in, ax.major_tick_out = 13, 0
    ax.minor_tick_in, ax.minor_tick_out = 7, 0
    ax.major_tick_line_color = ax.minor_tick_line_color = "#222222"
    ax.major_tick_line_width = ax.minor_tick_line_width = 1.2


def spectrum(box, xr, ylog, rr, E, mlog, dlog, tlog, resid, yticks, yminor, ylabels, rticks, right_axis=True):
    l, t, m, r, b = box
    E = np.array(E)
    edges = np.r_[xr[0], np.sqrt(E[:-1] * E[1:]), xr[1]]
    R = 30 if right_axis else 0
    top = figure(x_axis_type="log", y_axis_type="log", x_range=Range1d(*xr), y_range=Range1d(*ylog),
                 frame_width=r - l, frame_height=m - t, min_border_left=130, min_border_right=R,
                 min_border_top=20, min_border_bottom=10, toolbar_location=None, tools="",
                 output_backend="svg", border_fill_alpha=0)
    top.grid.visible = False
    top.outline_line_color = "#222222"
    top.outline_line_width = 2
    log_axis_style(top.xaxis[0], XMAJ, XMIN)
    log_axis_style(top.yaxis[0], yticks, yminor, ylabels, size=26)
    ax = LogAxis(); log_axis_style(ax, XMAJ, XMIN); top.add_layout(ax, "above")
    if right_axis:
        ax = LogAxis(); log_axis_style(ax, yticks, yminor); top.add_layout(ax, "right")
    xs = np.repeat(edges, 2)[1:-1]
    ys = 10.0 ** np.repeat(np.array(mlog), 2)
    top.line(xs, ys, line_color=INK, line_width=1.8)
    for i, (c, tp) in enumerate(zip(dlog, tlog)):
        if tp is None and c is None:
            continue
        hi = 10.0 ** tp if tp is not None else None
        if c is not None:
            v = 10.0 ** c
            top.segment([edges[i]], [v], [edges[i + 1]], [v], line_color=INK, line_width=1.8)
            lo = 2 * v - (hi if hi else v)
        else:
            lo = 0
        lo = max(lo, ylog[0])
        if hi:
            top.segment([E[i]], [lo], [E[i]], [hi], line_color=INK, line_width=1.8)
    place(top, l - 130, t - 20)

    low = figure(x_axis_type="log", x_range=Range1d(*xr), y_range=Range1d(*rr),
                 frame_width=r - l, frame_height=b - m, min_border_left=130, min_border_right=R,
                 min_border_top=20, min_border_bottom=60, toolbar_location=None, tools="",
                 output_backend="svg", border_fill_alpha=0, background_fill_color="white")
    low.grid.visible = False
    low.outline_line_color = "#222222"
    low.outline_line_width = 2
    log_axis_style(low.xaxis[0], XMAJ, XMIN, {float(v): (str(v)) for v in XMAJ})
    log_axis_style(low.yaxis[0], rticks, [], {float(v): lab(v, 0) for v in rticks})
    ax = LogAxis(); log_axis_style(ax, XMAJ, XMIN); low.add_layout(ax, "above")
    if right_axis:
        ax = LinearAxis(); log_axis_style(ax, rticks, []); low.add_layout(ax, "right")
    rs = np.array(resid)
    low.segment(edges[:-1], rs, edges[1:], rs, line_color=INK, line_width=1.8)
    low.segment(E, rs - 1.05, E, rs + 1.05, line_color=INK, line_width=1.8)
    low.line(list(xr), [0, 0], line_color="#33e033", line_width=2.5)
    place(low, l - 130, m - 20)


def decade_minor(lo, hi):
    return [k * 10.0 ** d for d in range(lo, hi) for k in range(2, 10)]


spectrum((190, 2103, 2608, 1254, 2910), (.3, 9.8), (5.9e-6, .01), (-3.03, 2.73), A3_E, A3_MODEL_LOG, A3_DATA_LOG,
         A3_TOP_LOG, A3_RESID, [1e-3, 1e-4, 1e-5], decade_minor(-6, -2),
         {1e-3: "10\u207b\u00b3", 1e-4: "10\u207b\u2074", 1e-5: "10\u207b\u2075"}, [-2, 0, 2])
spectrum((1428, 2106, 2611, 2480, 2913), (.3, 9.41), (1.25e-5, .0157), (-3.56, 2.77), B3_E, B3_MODEL_LOG, B3_DATA_LOG,
         B3_TOP_LOG, B3_RESID, [.01, 1e-3, 1e-4], decade_minor(-5, -1),
         {.01: "0.01", 1e-3: "10\u207b\u00b3", 1e-4: "10\u207b\u2074"}, [-2, 0, 2], right_axis=False)

# ---- overlay: annotations, shared axis titles, header bar ----
ov = figure(width=2480, height=3002, x_range=Range1d(0, 2480), y_range=Range1d(3002, 0),
            x_axis_location=None, y_axis_location=None, toolbar_location=None, tools="",
            output_backend="svg", min_border=0, background_fill_alpha=0, border_fill_alpha=0)
ov.grid.visible = False
ov.outline_line_color = None


def txt(x, y, s, size, font=LABEL_FONT, bold=False, angle=0, align="center", color="black"):
    ov.text([x], [y], text=[s], text_font=value(font), text_font_size=f"{size}px",
            text_font_style="bold" if bold else "normal", text_align=align, text_baseline="middle",
            angle=angle, text_color=color)


def box(l, t, r, b):
    ov.quad(left=[l], right=[r], top=[t], bottom=[b], fill_color="white", line_color="black", line_width=5)


# clipped panel titles of the source plots
txt(624, 33, "Light", 33, font=TICK_FONT)
txt(1953, 44, "Lightcurve NGC 4485/90", 34, font=TICK_FONT)
ov.quad(left=[560], right=[700], top=[10], bottom=[33], fill_color="white", line_color=None)
ov.quad(left=[1730], right=[2180], top=[10], bottom=[47], fill_color="white", line_color=None)
txt(634, 2065, "---- --", 16, font=SMALL)

# header bar with rounded lower corners
rad = 30
th = np.linspace(0, math.pi / 2, 12)
bar_x = np.r_[79, 79 + rad * (1 - np.cos(th)), 2476 - rad + rad * np.sin(th), 2476]
bar_y = np.r_[-1, 16 - rad + rad * np.sin(th), 16 - rad + rad * np.cos(th), -1]
ov.patch(bar_x, bar_y, fill_color="#2e4f6b", line_color=None)

txt(402, 132, "(a.1)", 68, bold=True)
txt(936, 151, "M 51", 75, bold=True)
txt(1624, 151, "(b.1)", 64, bold=True)
txt(2139, 149, "NGC 4485/90", 84, bold=True)
txt(412, 1375, "(a.2)", 75, bold=True)
txt(1593, 1375, "(b.2)", 74, bold=True)
txt(406, 2177, "(a.3)", 76, bold=True)
txt(1618, 2183, "(b.3)", 73, bold=True)
txt(892, 2449, "ULX 8", 72, bold=True)
txt(1978, 2426, "ULX 4", 72, bold=True)

box(257, 1137, 787, 1304)
txt(269, 1176, "Larger circles represent", 45, align="left")
txt(269, 1240, "grouped spectrums.", 45, align="left")
txt(1097, 1170, "Zoom in", 45)
box(1478, 1134, 2032, 1297)
txt(1490, 1174, "Larger circles represent", 45, align="left")
txt(1490, 1238, "grouped spectrums.", 45, align="left")
txt(2364, 1168, "Zoom in", 45)

txt(66, 528, "Count rate (counts/s)", 43, font=TICK_FONT, angle=math.pi / 2)
txt(71, 1675, "Hardness Ratio", 43, font=TICK_FONT, angle=math.pi / 2)
txt(73, 2537, "Normalized count rate (counts/s/keV)", 43, font=TICK_FONT, angle=math.pi / 2)
txt(1310, 991, "MJD \u2014 50000", 48)
txt(1310, 2013, "Count rate (counts/s)", 49)
txt(1252, 2974, "Energy (keV)", 49)
place(ov, 0, 0)

open("out.html", "w").write(file_html(figs, INLINE))
